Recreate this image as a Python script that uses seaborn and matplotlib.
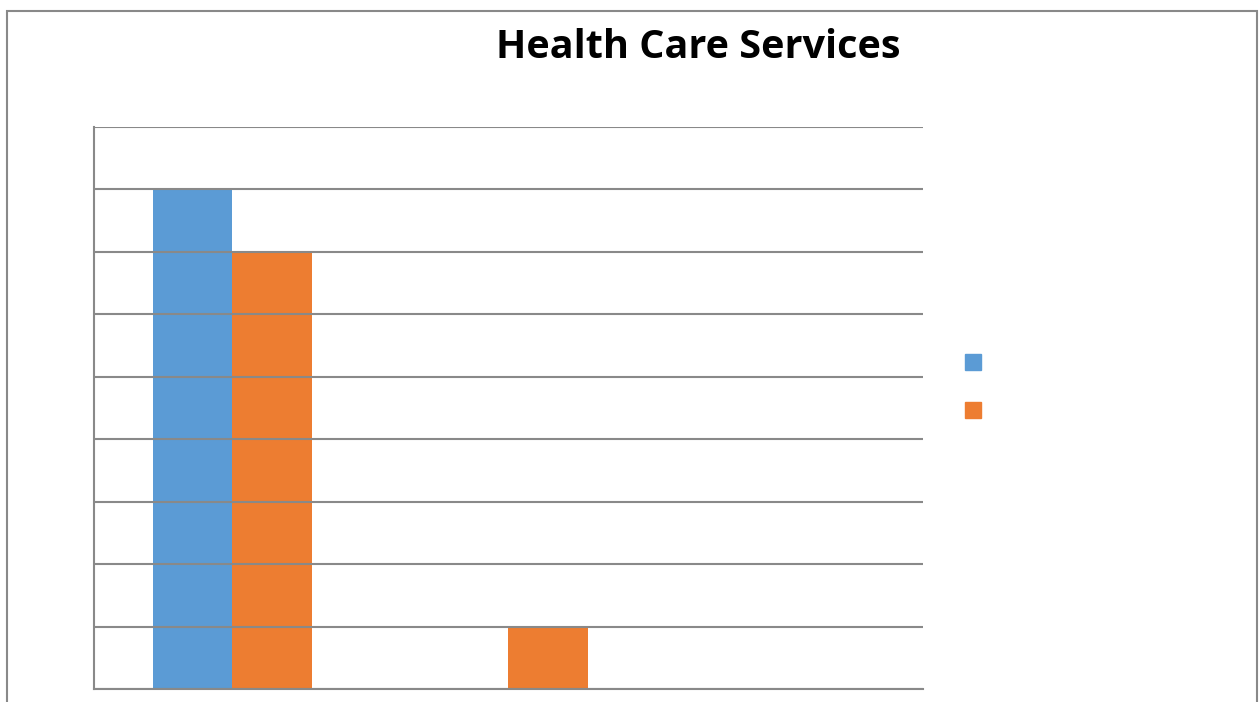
import numpy as np
import pandas as pd
import seaborn as sns
import matplotlib.pyplot as plt
import matplotlib.patches as patches
from matplotlib.lines import Line2D

# data (category / series names are not shown in the picture)
categories = ['Category 1', 'Category 2', 'Category 3']
series_names = ['Series 1', 'Series 2']
series_1 = [8, 0, 0]
series_2 = [7, 1, 0]

colors = ['#5B9BD5', '#ED7D31']
grid_color = '#898989'

df = pd.DataFrame({
    'category': categories * 2,
    'series': [series_names[0]] * 3 + [series_names[1]] * 3,
    'value': series_1 + series_2,
})

sns.set_style('white')
plt.rcParams['font.family'] = ['Open Sans', 'DejaVu Sans']

fig = plt.figure(figsize=(12.6, 7.02), dpi=100)
ax = fig.add_axes([94 / 1260, 13 / 702, (923 - 94) / 1260, (689 - 127) / 702])

sns.barplot(data=df, x='category', y='value', hue='series', palette=colors,
            width=0.576, gap=0, saturation=1, legend=False, linewidth=0,
            zorder=1, ax=ax)

ax.set_ylim(0, 9)
ax.set_yticks(np.arange(0, 10, 1))
ax.set_xlim(-0.5, 2.5)
# gridlines sit on top of the bars, as in the reference
ax.set_axisbelow(False)
ax.yaxis.grid(True, color=grid_color, linewidth=1.5, zorder=3)
ax.set_xticklabels([])
ax.set_yticklabels([])
ax.tick_params(length=0)
ax.set_xlabel('')
ax.set_ylabel('')
for side in ['top', 'right']:
    ax.spines[side].set_visible(False)
for side in ['left', 'bottom']:
    ax.spines[side].set_color(grid_color)
    ax.spines[side].set_linewidth(1.5)
    ax.spines[side].set_zorder(4)

# title
fig.text(698 / 1260, 1 - 47 / 702, 'Health Care Services', ha='center', va='center',
         fontsize=28.5, fontweight='bold', color='black')

# legend markers (no text visible in the reference)
handles = [Line2D([0], [0], marker='s', linestyle='', markersize=11,
                  markerfacecolor=c, markeredgecolor=c) for c in colors]
fig.legend(handles, ['', ''], loc='center left', frameon=False,
           bbox_to_anchor=(950 / 1260, 1 - 388 / 702), labelspacing=1.9,
           handlelength=1, handletextpad=0, fontsize=12)

# outer chart border
border = patches.Rectangle((7 / 1260, -0.1), (1257 - 7) / 1260, 1.1 - 11 / 702,
                           transform=fig.transFigure, fill=False,
                           edgecolor=grid_color, linewidth=1.5, clip_on=False)
fig.patches.append(border)

fig.savefig('out.png', dpi=100)
